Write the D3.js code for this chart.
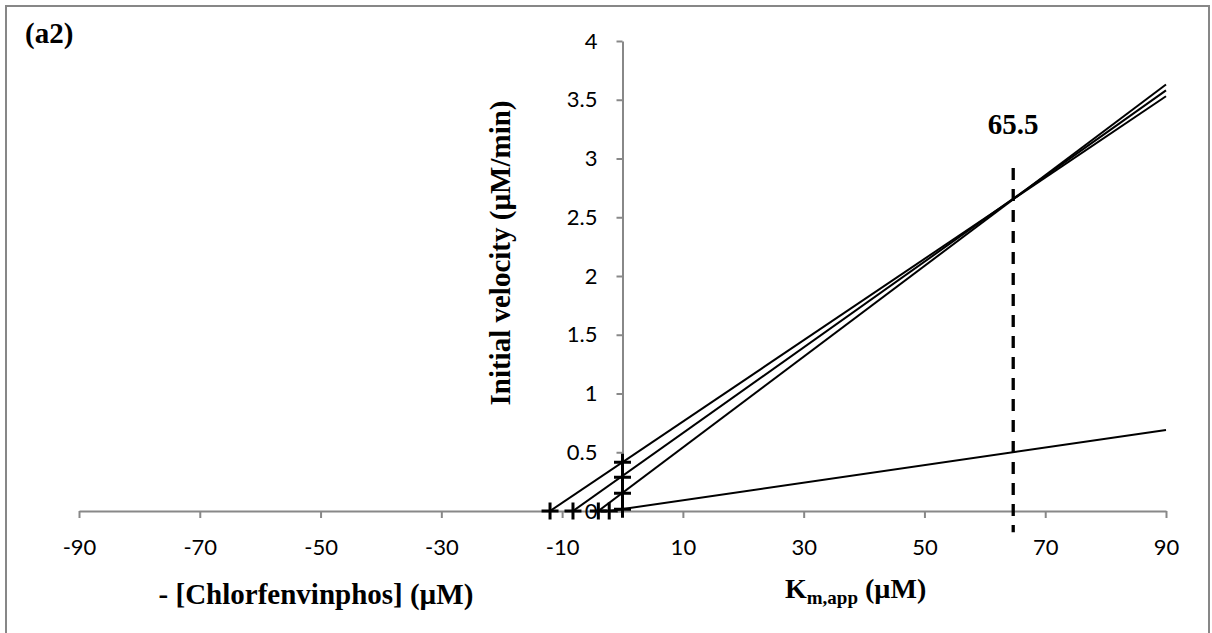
<!DOCTYPE html>
<html>
<head>
<meta charset="utf-8">
<script src="https://cdn.jsdelivr.net/npm/d3@7"></script>
<style>
  html, body { margin: 0; padding: 0; background: #fff; }
  svg { display: block; }
</style>
</head>
<body>
<svg id="chart" width="1212" height="633"></svg>
<script>
// ---- data ----
const xTicks = [-90, -70, -50, -30, -10, 10, 30, 50, 70, 90];
const yTicks = [0, 0.5, 1, 1.5, 2, 2.5, 3, 3.5, 4];
// each line: start point (x-intercept) and end point (at x = 90)
const lineStartX = [-12.0, -8.2, -4.0, -2.2];
const lineStartY = [0, 0, 0, 0];
const lineEndX = [90, 90, 90, 90];
const lineEndY = [3.53, 3.58, 3.63, 0.69];
// "+" markers on the axes
const markerX = [-12.0, -8.2, -4.0, -2.2, 0, 0, 0, 0];
const markerY = [0, 0, 0, 0, 0.415, 0.287, 0.151, 0.014];
// dashed reference line
const dashX = 64.7;
const dashY = [2.92, -0.18];
const dashLabel = "65.5";
const panelLabel = "(a2)";

const svg = d3.select("#chart");
const x = d3.scaleLinear().domain([-90, 90]).range([79, 1166]);
const y = d3.scaleLinear().domain([0, 4]).range([511, 41]);

// outer border
svg.append("rect").attr("x", 6).attr("y", 6).attr("width", 1203).attr("height", 640)
  .attr("fill", "none").attr("stroke", "#878787").attr("stroke-width", 2);

const tickFont = "Lato, 'Open Sans', sans-serif";
const serif = "'Liberation Serif', 'DejaVu Serif', serif";

// x axis
const xAxis = svg.append("g").attr("transform", `translate(0,${y(0)})`)
  .call(d3.axisBottom(x).tickValues(xTicks).tickSize(7).tickSizeOuter(0)
    .tickFormat(d => String(d)));
xAxis.selectAll(".tick text").attr("y", 36).attr("dy", "0.35em");
// y axis
const yAxis = svg.append("g").attr("transform", `translate(${x(0)},0)`)
  .call(d3.axisLeft(y).tickValues(yTicks).tickSize(6).tickPadding(19).tickSizeOuter(0)
    .tickFormat(d => String(d)));

[xAxis, yAxis].forEach(g => {
  g.select(".domain").attr("stroke", "#888").attr("stroke-width", 2);
  g.selectAll(".tick line").attr("stroke", "#888").attr("stroke-width", 2);
  g.selectAll(".tick text").attr("fill", "#000").style("font-family", tickFont).style("font-size", "22px");
});

// lines
const lineData = lineStartX.map((d, i) => [[d, lineStartY[i]], [lineEndX[i], lineEndY[i]]]);
const lineGen = d3.line().x(d => x(d[0])).y(d => y(d[1]));
svg.append("g").selectAll("path").data(lineData).join("path")
  .attr("d", lineGen).attr("fill", "none").attr("stroke", "#000").attr("stroke-width", 2);

// markers
const mk = svg.append("g");
markerX.forEach((mx, i) => {
  const cx = x(mx), cy = y(markerY[i]), h = 8.5;
  mk.append("path").attr("d", `M${cx - h},${cy}H${cx + h}M${cx},${cy - h}V${cy + h}`)
    .attr("stroke", "#000").attr("stroke-width", 3).attr("fill", "none");
});

// dashed line
svg.append("line").attr("x1", x(dashX)).attr("x2", x(dashX))
  .attr("y1", y(dashY[0])).attr("y2", y(dashY[1]))
  .attr("stroke", "#000").attr("stroke-width", 3.3).attr("stroke-dasharray", "12,9");

svg.append("text").attr("x", x(dashX)).attr("y", 134).attr("text-anchor", "middle")
  .style("font-family", serif).style("font-weight", "bold").style("font-size", "29px")
  .text(dashLabel);

svg.append("text").attr("x", 25).attr("y", 43)
  .style("font-family", serif).style("font-weight", "bold").style("font-size", "29px")
  .text(panelLabel);

// axis titles
svg.append("text").attr("transform", `translate(510,253) rotate(-90)`).attr("text-anchor", "middle")
  .style("font-family", serif).style("font-weight", "bold").style("font-size", "29px")
  .text("Initial velocity (µM/min)");

svg.append("text").attr("x", 316).attr("y", 604).attr("text-anchor", "middle")
  .style("font-family", serif).style("font-weight", "bold").style("font-size", "29px")
  .text("- [Chlorfenvinphos] (µM)");

const km = svg.append("text").attr("x", 785).attr("y", 598)
  .style("font-family", serif).style("font-weight", "bold").style("font-size", "28px");
km.append("tspan").text("K");
km.append("tspan").attr("dy", 6).style("font-size", "19px").text("m,app");
km.append("tspan").attr("dy", -6).text(" (µM)");
</script>
</body>
</html>
